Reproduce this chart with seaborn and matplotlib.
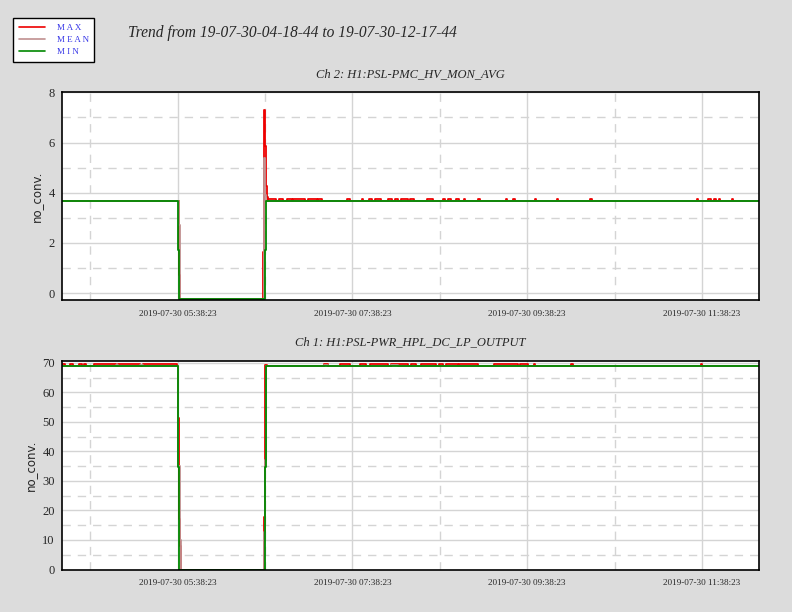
import matplotlib
matplotlib.use('Agg')
import matplotlib.pyplot as plt
import matplotlib.dates as mdates
from matplotlib.lines import Line2D
import numpy as np
import pandas as pd
import seaborn as sns

# trend window
start = pd.Timestamp('2019-07-30 04:18:44')
span_min = 479

# Ch 2: H1:PSL-PMC_HV_MON_AVG  (step change points, minutes from start)
ch2_min_t = [0, 79.6, 80.6, 139.5, 140.4, 479]
ch2_min_v = [3.68, 1.72, -0.23, 1.72, 3.68, 3.68]
ch2_mean_t = [0, 80.3, 80.9, 81.5, 138.7, 139.2, 139.8, 140.6, 479]
ch2_mean_v = [3.68, 2.7, 0.3, -0.23, 2.85, 5.4, 3.9, 3.68, 3.68]
ch2_max_t = [0, 80.5, 81.5, 138.3, 139.0, 139.6, 140.3, 141.0, 141.7, 479]
ch2_max_v = [3.68, 0.72, -0.23, 1.65, 7.3, 5.85, 4.25, 3.85, 3.68, 3.68]
# short spans where max sits a hair above the flat level
ch2_max_spans = [(142, 147), (149, 152), (155, 158), (159, 167), (169, 175), (176, 179),
                 (196, 198), (206, 207), (211, 213), (215, 219), (224, 227), (229, 231),
                 (233, 238), (239, 242), (251, 255), (262, 263), (265, 267), (271, 273),
                 (276, 277), (286, 287), (305, 306), (310, 311), (325, 326), (340, 341),
                 (363, 364), (436, 437), (444, 446), (448, 449), (451, 452), (460, 461)]
ch2_max_hi = 3.76

# Ch 1: H1:PSL-PWR_HPL_DC_LP_OUTPUT
ch1_min_t = [0, 79.6, 80.6, 139.3, 140.2, 479]
ch1_min_v = [68.8, 34.8, 0, 34.8, 68.8, 68.8]
ch1_mean_t = [0, 80.2, 80.9, 81.6, 138.6, 139.4, 140.2, 479]
ch1_mean_v = [68.8, 35.0, 10.0, 0, 12.6, 37.0, 68.8, 68.8]
ch1_max_t = [0, 80.1, 80.8, 81.5, 82.2, 138.8, 139.6, 140.8, 479]
ch1_max_v = [68.8, 51.4, 17.0, 7.8, 0, 17.7, 69.3, 68.8, 68.8]
ch1_max_spans = [(0, 2), (6, 8), (12, 14), (15, 17), (22, 37), (39, 54), (56, 79),
                 (180, 183), (191, 198), (205, 209), (212, 224), (226, 238), (240, 243),
                 (247, 257), (259, 262), (264, 272), (273, 286), (297, 313), (315, 320),
                 (324, 325), (350, 351), (439, 440)]
ch1_mean_spans = [(37, 39), (54, 56), (180, 183), (226, 231)]
ch1_max_hi = 69.5
ch1_mean_hi = 69.3

tick_times = ['2019-07-30 05:38:23', '2019-07-30 07:38:23',
              '2019-07-30 09:38:23', '2019-07-30 11:38:23']
minor_times = ['2019-07-30 04:38:23', '2019-07-30 06:38:23',
               '2019-07-30 08:38:23', '2019-07-30 10:38:23']

c_max = '#ee0000'
c_mean = '#c09090'
c_min = '#008800'
grid_c = '#d4d4d4'


def add_spans(t, v, spans, hi):
    t = list(t)
    v = list(v)
    pts = list(zip(t, v))
    for a, b in spans:
        base = v[np.searchsorted(t, a, side='right') - 1]
        pts += [(a, hi), (b, base)]
    pts.sort(key=lambda p: p[0])
    return [p[0] for p in pts], [p[1] for p in pts]


def to_time(mins):
    return start + pd.to_timedelta(np.asarray(mins, dtype=float), unit='min')


def draw_channel(ax, series, title, ylim, yticks, yminor, ylab_x):
    for (t, v), col in series:
        sns.lineplot(x=to_time(t), y=v, ax=ax, color=col, lw=1.3,
                     drawstyle='steps-post', estimator=None, sort=False)
    ax.set_xlim(start, start + pd.Timedelta(minutes=span_min))
    ax.set_ylim(*ylim)
    ax.set_yticks(yticks)
    ax.set_yticks(yminor, minor=True)
    ax.set_xticks(pd.to_datetime(tick_times))
    ax.set_xticks(pd.to_datetime(minor_times), minor=True)
    ax.xaxis.set_major_formatter(mdates.DateFormatter('%Y-%m-%d %H:%M:%S'))
    ax.grid(True, which='major', color=grid_c, lw=1.0, ls='-')
    ax.grid(True, which='minor', color=grid_c, lw=1.0, ls=(0, (6, 5)))
    ax.set_axisbelow(True)
    ax.tick_params(which='both', length=0)
    ax.tick_params(axis='x', pad=7, labelsize=6.6)
    ax.tick_params(axis='y', pad=5, labelsize=9)
    for lab in ax.get_xticklabels() + ax.get_yticklabels():
        lab.set_family('Liberation Serif')
    for s in ax.spines.values():
        s.set_color('black')
        s.set_linewidth(1.2)
    ax.set_xlabel('')
    ax.set_ylabel('no_conv.', fontsize=8.5, family='DejaVu Sans')
    ax.yaxis.set_label_coords(ylab_x, 0.5)
    ax.set_title(title, fontsize=9, family='Liberation Serif', style='italic', pad=11)


sns.set_style('white')
fig = plt.figure(figsize=(7.92, 6.12), dpi=100, facecolor='#dcdcdc')

ax_top = fig.add_axes([0.0779, 0.5098, 0.8808, 0.3394], facecolor='white')
ax_bot = fig.add_axes([0.0779, 0.0694, 0.8808, 0.3412], facecolor='white')

draw_channel(ax_top,
             [(add_spans(ch2_max_t, ch2_max_v, ch2_max_spans, ch2_max_hi), c_max),
              ((ch2_mean_t, ch2_mean_v), c_mean),
              ((ch2_min_t, ch2_min_v), c_min)],
             'Ch 2: H1:PSL-PMC_HV_MON_AVG', (-0.27, 8), [0, 2, 4, 6, 8], [1, 3, 5, 7],
             -0.027)

draw_channel(ax_bot,
             [(add_spans(ch1_max_t, ch1_max_v, ch1_max_spans, ch1_max_hi), c_max),
              (add_spans(ch1_mean_t, ch1_mean_v, ch1_mean_spans, ch1_mean_hi), c_mean),
              ((ch1_min_t, ch1_min_v), c_min)],
             'Ch 1: H1:PSL-PWR_HPL_DC_LP_OUTPUT', (0, 70.7),
             [0, 10, 20, 30, 40, 50, 60, 70], [5, 15, 25, 35, 45, 55, 65],
             -0.035)

fig.text(128 / 792, 1 - 33 / 612, 'Trend from 19-07-30-04-18-44 to 19-07-30-12-17-44',
         fontsize=11.2, family='Liberation Serif', style='italic', va='center', ha='left')

handles = [Line2D([], [], color=c_max, lw=1.2),
           Line2D([], [], color=c_mean, lw=1.2),
           Line2D([], [], color=c_min, lw=1.2)]
leg = fig.legend(handles, ['M A X', 'M E A N', 'M I N'], loc='upper left',
                 bbox_to_anchor=(13 / 792, 1 - 18 / 612), frameon=True, fancybox=False,
                 edgecolor='black', framealpha=1, facecolor='white',
                 prop={'family': 'Liberation Serif', 'size': 6.5},
                 labelcolor='#3a3ae8', handlelength=2.9, handletextpad=1.3,
                 labelspacing=0.42, borderpad=0.62, borderaxespad=0)
leg.get_frame().set_linewidth(1.0)

fig.savefig('out.png', dpi=100, facecolor=fig.get_facecolor())
